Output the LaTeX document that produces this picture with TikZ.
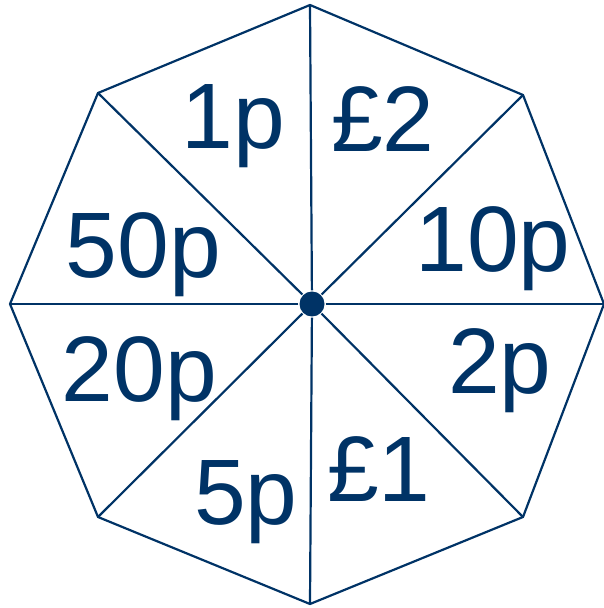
\documentclass[tikz,border=0pt]{standalone}
\usepackage{fontspec}
\setmainfont{Liberation Sans}
\definecolor{navy}{RGB}{0,51,102}
\begin{document}
\begin{tikzpicture}[x=1pt, y=1pt, navy, line width=2.2pt, coin/.style = {font=\fontsize{93}{100}\selectfont, inner sep=0pt, anchor=base}, hub/.style = {circle, fill, inner sep=0pt, minimum size=25pt}]
            \useasboundingbox (0,0) rectangle (604,608);
            \coordinate (t) at (310,603);
            \coordinate (tr) at (523,513);
            \coordinate (r) at (604,304);
            \coordinate (br) at (523,91);
            \coordinate (b) at (310,4);
            \coordinate (bl) at (98,91);
            \coordinate (l) at (10,304);
            \coordinate (tl) at (98,515);
            \node[hub] (c) at (312,304) {};
            \draw (t) -- (tr) -- (r) -- (br) -- (b) -- (bl) -- (l) -- (tl) -- cycle;
            \foreach \v in {t,tr,r,br,b,bl,l,tl}
                \draw (c) -- (\v);
            \node[coin] (p1) at (233.5,459) {1p};
            \node[coin] (l2) at (383,456) {£2};
            \node[coin] (p10) at (493,336) {10p};
            \node[coin] (p2) at (500,214) {2p};
            \node[coin] (l1) at (379,106) {£1};
            \node[coin] (p5) at (246,83) {5p};
            \node[coin] (p20) at (139.5,206) {20p};
            \node[coin] (p50) at (143.5,330) {50p};
        \end{tikzpicture}
\end{document}
